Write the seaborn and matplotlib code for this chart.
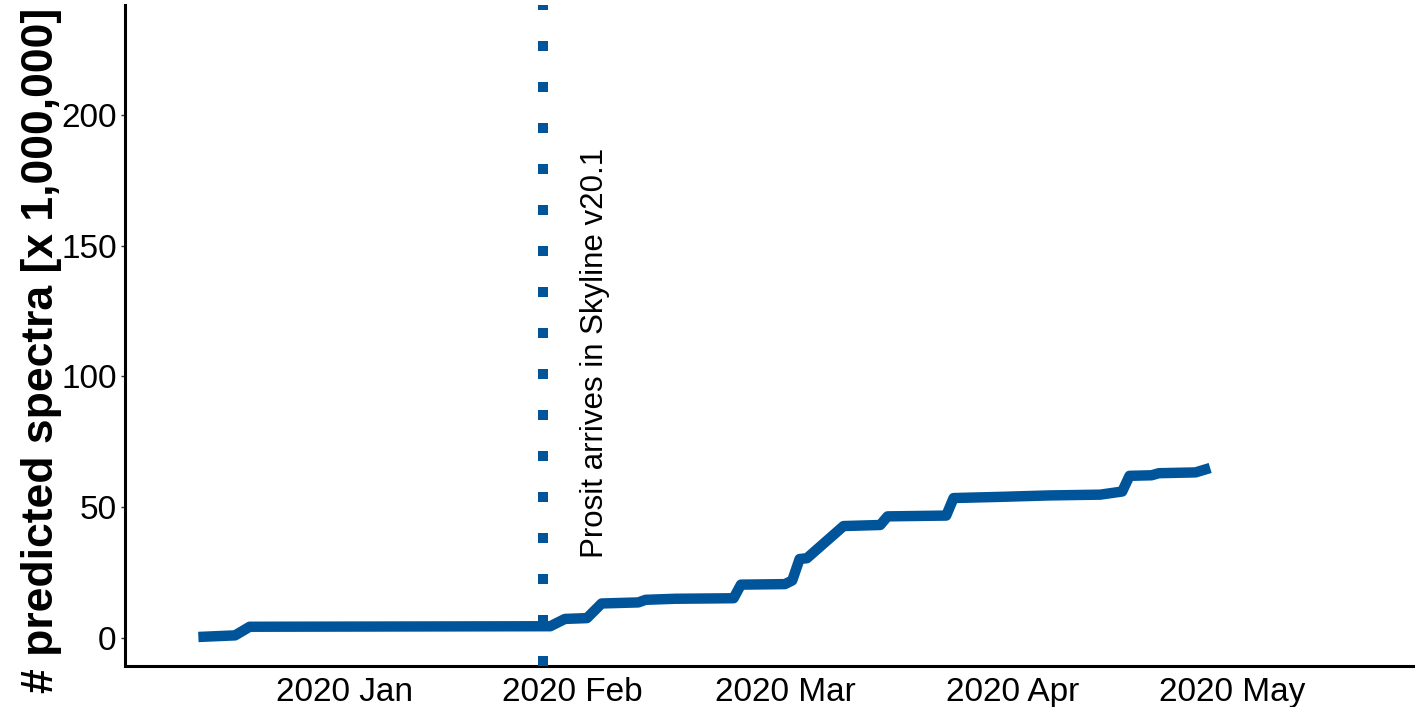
import pandas as pd
import seaborn as sns
import matplotlib
matplotlib.use('Agg')
import matplotlib.pyplot as plt
import matplotlib.dates as mdates

# cumulative number of predicted spectra (x 1,000,000)
dates = ['2019-12-12', '2019-12-17', '2019-12-19', '2020-01-29', '2020-01-31',
         '2020-02-03', '2020-02-05', '2020-02-10', '2020-02-11', '2020-02-15',
         '2020-02-23', '2020-02-24', '2020-03-01', '2020-03-02', '2020-03-03',
         '2020-03-04', '2020-03-09', '2020-03-14', '2020-03-15', '2020-03-23',
         '2020-03-24', '2020-03-31', '2020-04-06', '2020-04-13', '2020-04-16',
         '2020-04-17', '2020-04-20', '2020-04-21', '2020-04-26', '2020-04-28']
spectra = [0.4, 1.0, 4.3, 4.5, 7.3,
           7.6, 13.2, 13.6, 14.6, 15.0,
           15.2, 20.4, 20.6, 22.0, 30.2,
           30.5, 42.8, 43.2, 46.5, 46.8,
           53.5, 54.0, 54.5, 54.8, 56.0,
           62.0, 62.2, 63.0, 63.3, 65.0]
yticks = [0, 50, 100, 150, 200]
event_date = '2020-01-28'
event_label = 'Prosit arrives in Skyline v20.1'

df = pd.DataFrame({'date': pd.to_datetime(dates), 'spectra': spectra})

sns.set_theme(style='ticks')
plt.rcParams['font.family'] = ['Liberation Sans', 'DejaVu Sans']
plt.rcParams['text.color'] = 'black'

col = '#00559a'
fig = plt.figure(figsize=(14.16, 7.07), dpi=100)
ax = fig.add_axes([0.0883, 0.058, 0.9096, 0.935])

sns.lineplot(x='date', y='spectra', data=df, ax=ax, color=col, linewidth=7.5,
             solid_capstyle='butt', solid_joinstyle='round')

ax.axvline(pd.Timestamp(event_date), color=col, linewidth=7.2, dashes=(1, 3.1),
           dash_capstyle='butt', clip_on=False, zorder=5)
ax.text(pd.Timestamp('2020-02-04 02:00'), 30.6, event_label, rotation=90,
        ha='center', va='bottom', fontsize=22.5, color='black')

ax.set_xlim(pd.Timestamp('2019-12-02'), pd.Timestamp('2020-05-25 16:00'))
ax.set_ylim(-10.7, 242)
ax.set_yticks(yticks)
ax.xaxis.set_major_locator(mdates.MonthLocator())
ax.xaxis.set_major_formatter(mdates.DateFormatter('%Y %b'))

for s in ['top', 'right']:
    ax.spines[s].set_visible(False)
for s in ['left', 'bottom']:
    ax.spines[s].set_linewidth(2.2)
    ax.spines[s].set_color('black')

ax.tick_params(axis='x', length=0, pad=8, labelsize=24, labelcolor='black')
ax.tick_params(axis='y', length=3, width=1, color='#333333', pad=3,
               labelsize=24, labelcolor='black')
ax.set_xlabel('')
ax.set_ylabel('# predicted spectra [x 1,000,000]', fontsize=32, fontweight='bold',
              color='black')
ax.yaxis.set_label_coords(-0.049, 0.478)

fig.savefig('out.png', dpi=100)
